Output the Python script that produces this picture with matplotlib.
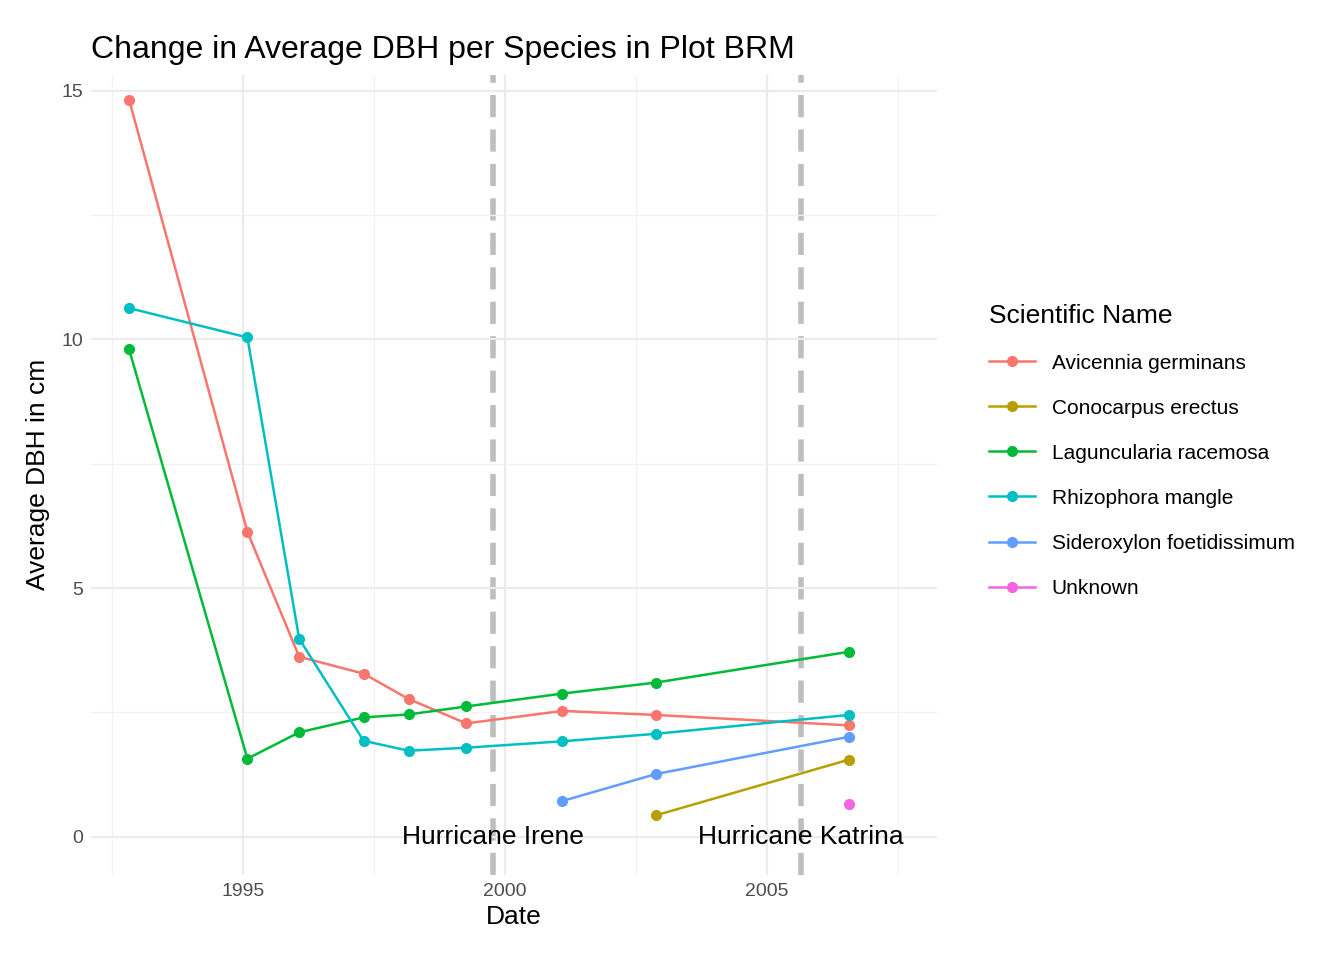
import matplotlib
matplotlib.use("Agg")
import matplotlib.pyplot as plt
from matplotlib.ticker import MultipleLocator

plt.rcParams['font.family'] = ['Liberation Sans', 'DejaVu Sans']

dates_all = [1992.82, 1995.08, 1996.07, 1997.3, 1998.16, 1999.26, 2001.1, 2002.88, 2006.57]
avicennia = [14.82, 6.13, 3.62, 3.28, 2.77, 2.28, 2.53, 2.45, 2.24]
laguncularia = [9.8, 1.57, 2.1, 2.4, 2.46, 2.62, 2.88, 3.1, 3.72]
rhizophora = [10.63, 10.04, 3.98, 1.93, 1.73, 1.79, 1.92, 2.07, 2.45]
sidero_dates = [2001.1, 2002.88, 2006.57]
sideroxylon = [0.72, 1.26, 2.01]
cono_dates = [2002.88, 2006.57]
conocarpus = [0.43, 1.55]
unk_dates = [2006.57]
unknown = [0.65]
hurricanes = [("Hurricane Irene", 1999.77), ("Hurricane Katrina", 2005.65)]

series = [
    ("Avicennia germinans", dates_all, avicennia, "#F8766D"),
    ("Conocarpus erectus", cono_dates, conocarpus, "#B79F00"),
    ("Laguncularia racemosa", dates_all, laguncularia, "#00BA38"),
    ("Rhizophora mangle", dates_all, rhizophora, "#00BFC4"),
    ("Sideroxylon foetidissimum", sidero_dates, sideroxylon, "#619CFF"),
    ("Unknown", unk_dates, unknown, "#F564E3"),
]

fig = plt.figure(figsize=(13.44, 9.6), dpi=100)
ax = fig.add_axes([0.068, 0.089, 0.629, 0.833])
for name, x, y, c in series:
    ax.plot(x, y, color=c, lw=1.8, marker="o", ms=7, label=name)
for name, x in hurricanes:
    ax.axvline(x, color="#BEBEBE", lw=4, ls=(0, (4, 2.2)), zorder=0.5)
    ax.text(x, 0, name, ha="center", va="center", fontsize=19)

ax.set_xlim(1992.1, 2008.25)
ax.set_ylim(-0.76, 15.32)
ax.xaxis.set_major_locator(MultipleLocator(5))
ax.xaxis.set_minor_locator(MultipleLocator(2.5))
ax.yaxis.set_major_locator(MultipleLocator(5))
ax.yaxis.set_minor_locator(MultipleLocator(2.5))
ax.grid(which="major", color="#EBEBEB", lw=1.6)
ax.grid(which="minor", color="#F2F2F2", lw=0.9)
ax.set_axisbelow(True)
for s in ax.spines.values():
    s.set_visible(False)
ax.tick_params(which="both", length=0, labelsize=14, colors="#4D4D4D", pad=6)
ax.set_xlabel("Date", fontsize=19, labelpad=4)
ax.set_ylabel("Average DBH in cm", fontsize=19, labelpad=8)
ax.set_title("Change in Average DBH per Species in Plot BRM", fontsize=23, loc="left", x=-0.0, pad=12)

leg = ax.legend(loc="center left", bbox_to_anchor=(1.04, 0.53), frameon=False,
                title="Scientific Name", fontsize=15, title_fontsize=19,
                labelspacing=1.25, handlelength=2.2)
leg._legend_box.align = "left"
fig.savefig("out.png", dpi=100)
